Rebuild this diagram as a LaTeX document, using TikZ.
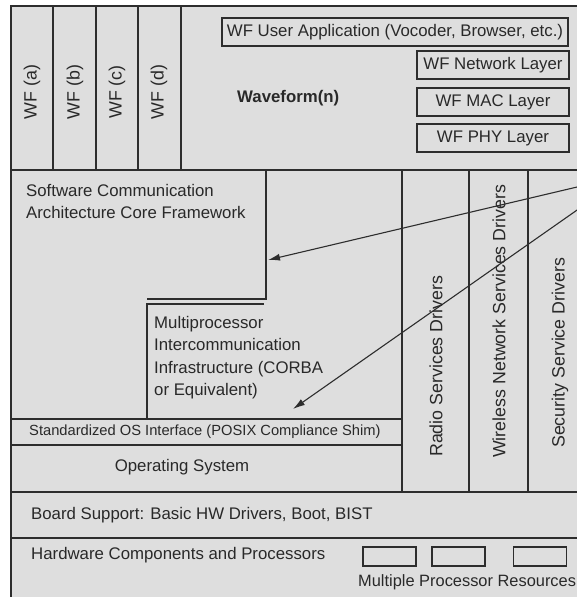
\documentclass[tikz,border=0pt]{standalone}
\usepackage{fontspec}
\setmainfont{Liberation Sans}
\usepackage{xcolor}
\usepackage{tikz}
\usetikzlibrary{arrows.meta, positioning, calc}
\definecolor{scangray}{RGB}{222,222,222}
\definecolor{inkgray}{RGB}{45,45,45}

\begin{document}
\begin{tikzpicture}[
    x=1pt, y=-1pt, % pixel grid of the scan, y pointing down
    every node/.style={font=\fontsize{16.8}{22.5}\selectfont, text=inkgray!90!black, inner sep=0pt},
    layer/.style={draw=inkgray, line width=1.4pt},
    wfbox/.style={rectangle, draw=inkgray, line width=1.2pt, fill=scangray,
                  minimum height=28pt, align=center},
    procbox/.style={rectangle, draw=inkgray, line width=1.2pt,
                    minimum width=53pt, minimum height=19pt},
    vlabel/.style={rotate=90, font=\fontsize{17.8}{20}\selectfont},
    pointer/.style={-{Latex[length=12pt, width=7pt]}, line width=1.1pt, draw=inkgray}
]
\useasboundingbox (0,0) rectangle (577,597);
\clip (0,0) rectangle (577,597);

% Frame and layers
\draw[layer, fill=scangray] (11,6) rectangle (610,630);
\draw[layer] (11,170) -- (610,170);
\foreach \x in {53, 96, 138, 181}
    \draw[layer] (\x,6) -- (\x,170);
\draw[layer] (266,170) -- (266,299) -- (147,299);
\draw[layer] (264,304) -- (147,304) -- (147,419);
\foreach \x in {402, 469, 528}
    \draw[layer] (\x,170) -- (\x,492);
\draw[layer] (11,419) -- (402,419);
\draw[layer] (11,445) -- (402,445);
\draw[layer] (11,492) -- (610,492);
\draw[layer] (11,538) -- (610,538);

% Nodes
\node[vlabel] (wfa) at (32,92)  {WF (a)};
\node[vlabel] (wfb) at (75,92)  {WF (b)};
\node[vlabel] (wfc) at (117,92) {WF (c)};
\node[vlabel] (wfd) at (159,92) {WF (d)};
\node[anchor=west, font=\fontsize{16.8}{20}\selectfont\bfseries] (wfn) at (237,98) {Waveform(n)};

\node[wfbox, minimum width=346pt] (app) at (395,32) {WF User Application (Vocoder, Browser, etc.)};
\node[wfbox, minimum width=152pt] (net) at (493,65)  {WF Network Layer};
\node[wfbox, minimum width=152pt] (mac) at (493,102) {WF MAC Layer};
\node[wfbox, minimum width=152pt] (phy) at (493,138) {WF PHY Layer};

\node[anchor=north west, align=left] (sca) at (26,184)
    {Software Communication\\Architecture Core Framework};
\node[anchor=north west, align=left] (mpi) at (154,316)
    {Multiprocessor\\Intercommunication\\Infrastructure (CORBA\\or Equivalent)};

\node[vlabel, anchor=west] (radio) at (436,457) {Radio Services Drivers};
\node[vlabel, anchor=west] (wless) at (499,458) {Wireless Network Services Drivers};
\node[vlabel, anchor=west] (secur) at (560,448) {Security Service Drivers};

\node[anchor=west, font=\fontsize{14.7}{17}\selectfont] (posix) at (29,432)
    {Standardized OS Interface (POSIX Compliance Shim)};
\node (os) at (182,467) {Operating System};
\node[anchor=west] (bsp) at (31,515) {Board Support: Basic HW Drivers, Boot, BIST};
\node[anchor=west] (hw) at (31,555) {Hardware Components and Processors};

\node[procbox] (cpua) at (389.5,556.5) {};
\node[procbox] (cpub) at (458.5,556.5) {};
\node[procbox] (cpuc) at (540,556.5) {};
\node[anchor=west, font=\fontsize{16.4}{20}\selectfont] (mpr) at (358,582) {Multiple Processor Resources};

% Edges
\coordinate (srca) at (600,181.6);
\coordinate (srcb) at (600,194);
\coordinate (scaedge) at (268,260);
\coordinate (mpifoot) at (293,409);
\draw[pointer] (srca) -- (scaedge);
\draw[pointer] (srcb) -- (mpifoot);

\end{tikzpicture}
\end{document}
